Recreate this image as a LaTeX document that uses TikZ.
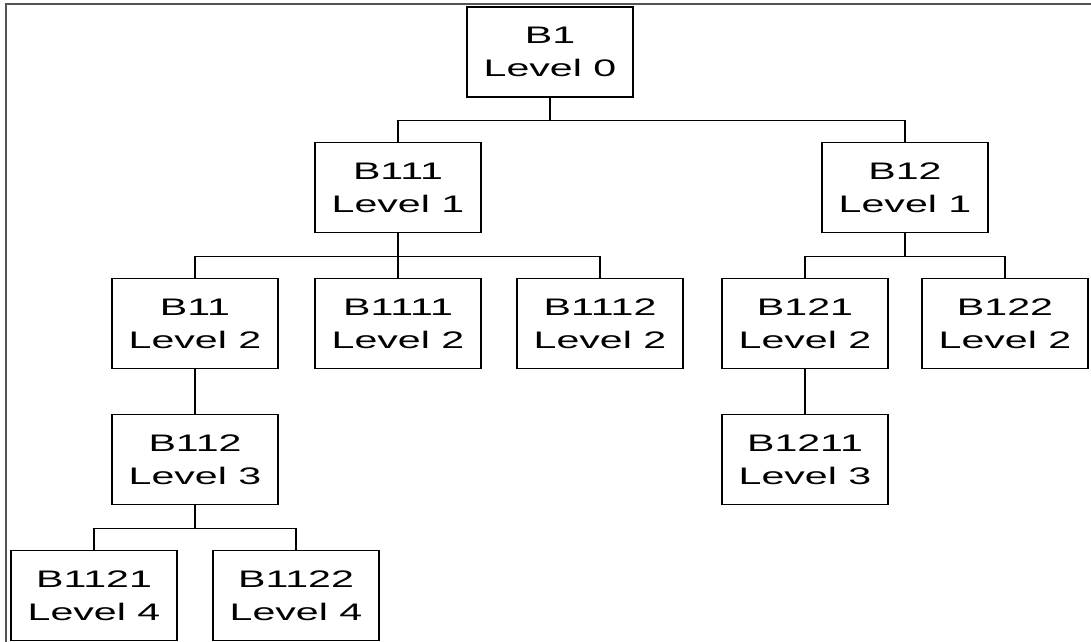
\documentclass[tikz,border=0pt]{standalone}
\usepackage{fontspec}
\usepackage{tikz}
\newfontfamily\boxfont{Liberation Sans}[FakeStretch=1.72]
\definecolor{framegray}{rgb}{0.33,0.33,0.33}

\begin{document}
\begin{tikzpicture}[x=0.025cm,y=-0.025cm,line width=0.9pt,
    blockbox/.style={draw,rectangle,minimum width=4.15cm,minimum height=2.25cm,
      align=center,inner sep=0pt,font=\boxfont\fontsize{17}{23.5}\selectfont}]

  \useasboundingbox (0,0) rectangle (1091,642);
  \draw [framegray,line width=1.4pt] (6,642) -- (6,4) -- (1091,4);

  \foreach \n/\x/\y/\lab/\lev in {b1/550/52/B1/0,
      b111/398/187.5/B111/1, b12/905/187.5/B12/1,
      b11/195/323.5/B11/2, b1111/398/323.5/B1111/2, b1112/600/323.5/B1112/2,
      b121/805/323.5/B121/2, b122/1005/323.5/B122/2,
      b112/195/459.5/B112/3, b1211/805/459.5/B1211/3,
      b1121/94/595.5/B1121/4, b1122/296/595.5/B1122/4}
  {
    \node [blockbox] (\n) at (\x,\y) {\lab\\Level \lev};
  }

  \foreach \p/\c in {b1/b111,b1/b12,b111/b11,b111/b1111,b111/b1112,
      b12/b121,b12/b122,b11/b112,b121/b1211,b112/b1121,b112/b1122}
  {
    \draw (\p.south) -- +(0,23) -| (\c.north);
  }

\end{tikzpicture}
\end{document}
